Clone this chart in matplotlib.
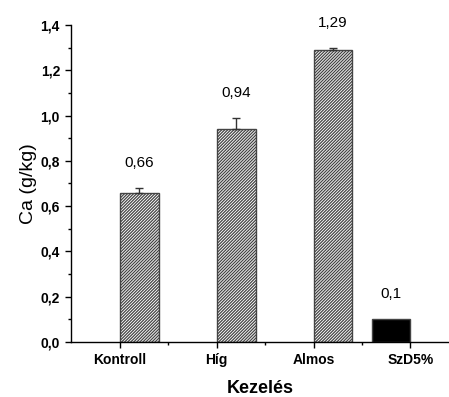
import matplotlib
matplotlib.use("Agg")
import matplotlib.pyplot as plt
from matplotlib.ticker import FixedLocator, MultipleLocator, FuncFormatter

plt.rcParams['font.family'] = ['Liberation Sans', 'DejaVu Sans']
plt.rcParams['hatch.linewidth'] = 0.9

categories = ["Kontroll", "Híg", "Almos", "SzD5%"]
hatched_values = [0.66, 0.94, 1.29]
hatched_errors = [0.02, 0.05, 0.01]
solid_values = [0.1]
value_labels = ["0,66", "0,94", "1,29", "0,1"]

bar_w = 0.4
fig = plt.figure(figsize=(4.49, 3.97), dpi=100)
ax = fig.add_axes([71 / 449, 55 / 397, 1 - 71 / 449, 317 / 397])

# hatched series sits right of each category tick, solid series left of it
hx = [i + bar_w / 2 for i in range(len(hatched_values))]
ax.bar(hx, hatched_values, width=bar_w, facecolor="white", edgecolor="#444444",
       hatch="/" * 11, linewidth=1.0, zorder=2)
ax.errorbar(hx, hatched_values, yerr=[[0] * len(hatched_errors), hatched_errors],
            fmt="none", ecolor="#333333", elinewidth=1.0, capsize=3, capthick=1.0, zorder=3)

sx = [3 - bar_w / 2]
ax.bar(sx, solid_values, width=bar_w, facecolor="black", edgecolor="#444444",
       linewidth=1.0, zorder=2)

# value labels above bars
tops = [v + e for v, e in zip(hatched_values, hatched_errors)] + solid_values
xs = hx + sx
for x, t, lab in zip(xs, tops, value_labels):
    ax.text(x, t + 0.11, lab, ha="center", va="center", fontsize=11)

ax.set_xlim(-0.507, 3.40)
ax.set_ylim(0, 1.4)
ax.xaxis.set_major_locator(FixedLocator(range(len(categories))))
ax.set_xticklabels(categories, fontweight="bold", fontsize=10)
ax.xaxis.set_minor_locator(FixedLocator([0.5, 1.5, 2.5]))
ax.yaxis.set_major_locator(MultipleLocator(0.2))
ax.yaxis.set_minor_locator(MultipleLocator(0.1))
ax.yaxis.set_major_formatter(FuncFormatter(lambda v, p: f"{v:.1f}".replace(".", ",")))
for lab in ax.get_yticklabels():
    lab.set_fontweight("bold")
    lab.set_fontsize(10)

ax.tick_params(axis="both", which="major", direction="out", length=4, width=1.0, pad=4)
ax.tick_params(axis="both", which="minor", direction="out", length=2.5, width=1.0)
ax.spines["top"].set_visible(False)
ax.spines["right"].set_visible(False)
ax.spines["left"].set_linewidth(1.0)
ax.spines["bottom"].set_linewidth(1.0)

ax.set_xlabel("Kezelés", fontsize=13, fontweight="bold", labelpad=9)
ax.set_ylabel("Ca (g/kg)", fontsize=14, labelpad=2.5)

fig.savefig("out.png", dpi=100)
